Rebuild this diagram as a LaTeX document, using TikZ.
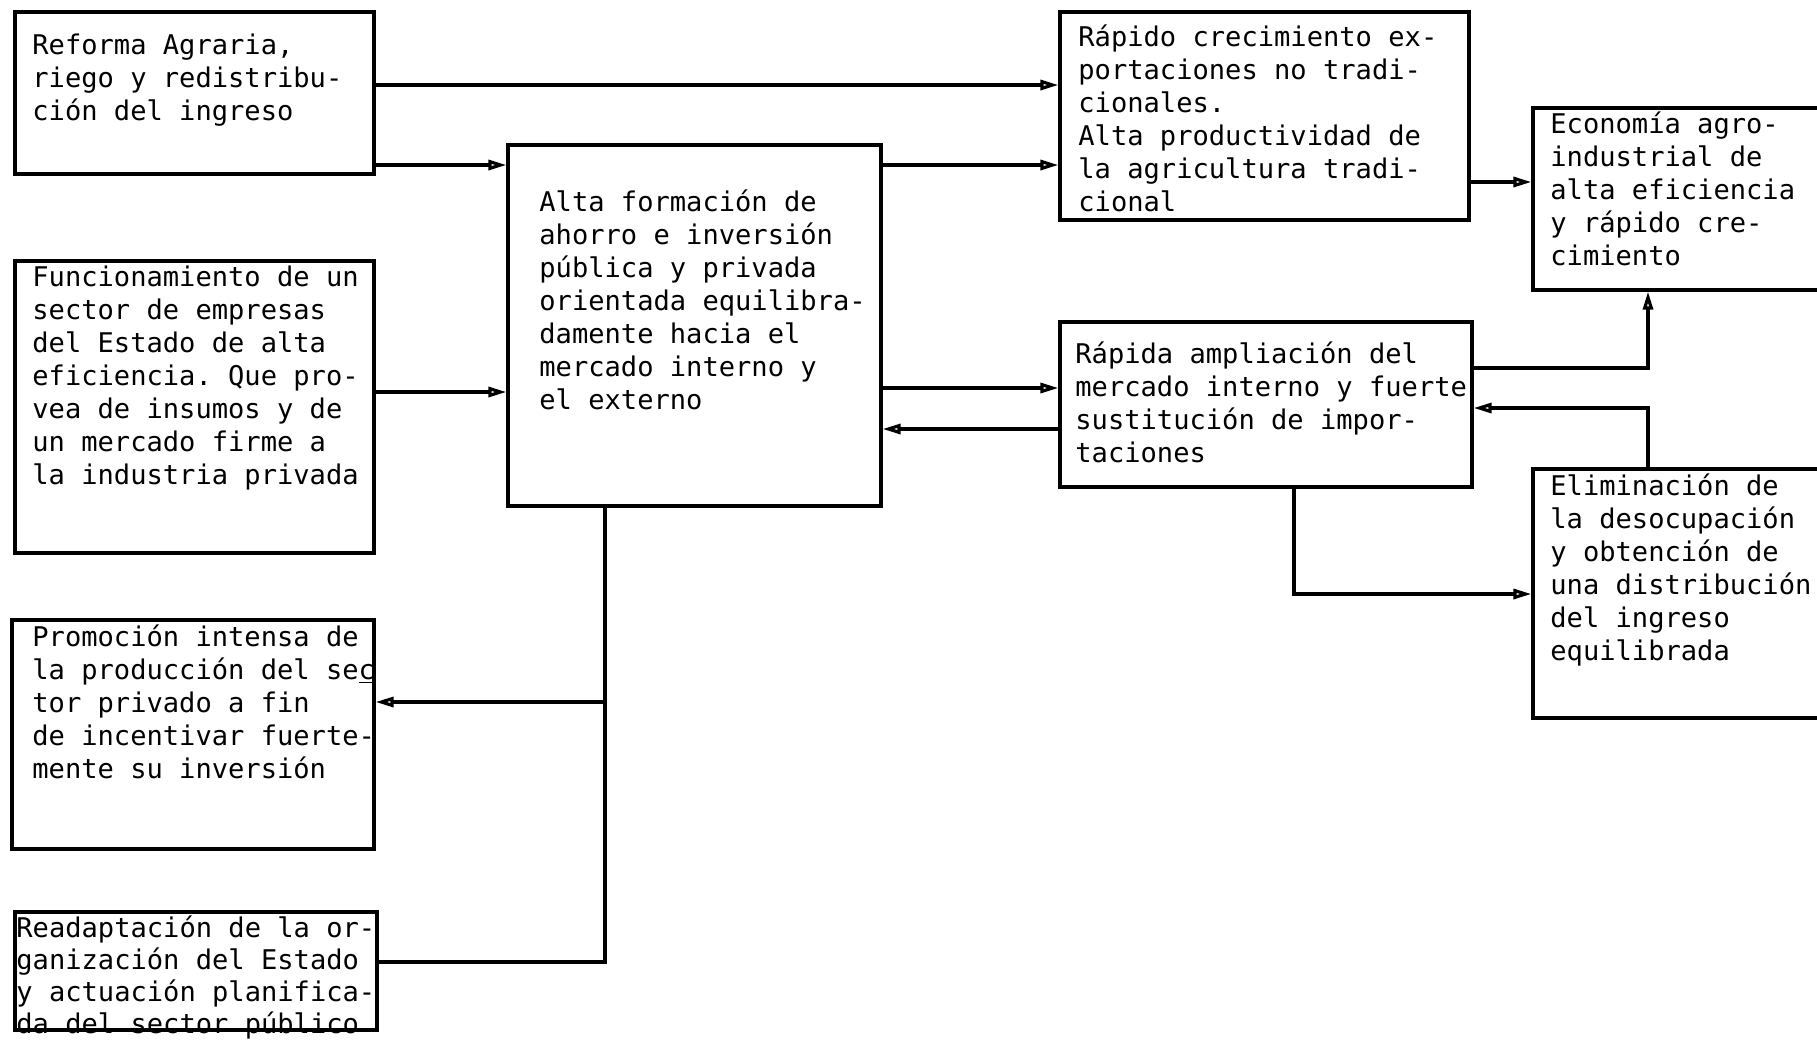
\documentclass[tikz,border=0pt]{standalone}
\usepackage{fontspec}
\setmonofont{DejaVu Sans Mono}
\usetikzlibrary{fit,arrows.meta}
\begin{document}
\begin{tikzpicture}[x=0.5pt,y=-0.5pt,
 box/.style={draw, line width=1.6pt, inner sep=0pt},
 txt/.style={anchor=north west, inner sep=0pt, align=left, font={\ttfamily\fontsize{13.55pt}{16.5pt}\selectfont}},
 arr/.style={line width=1.6pt, -{Triangle[open,length=9pt,width=5pt]}},
 ln/.style={line width=1.6pt}]
\clip (0,0) rectangle (1817,1041);
\fill[white] (0,0) rectangle (1817,1041);
% boxes
\node[box, fit={(15,12) (374,174)}] (A) {};
\node[box, fit={(508,145) (881,506)}] (C) {};
\node[box, fit={(1060,12) (1469,220)}] (R1) {};
\node[box, fit={(1533,108) (1830,290)}] (E) {};
\node[box, fit={(1060,322) (1472,487)}] (R2) {};
\node[box, fit={(1533,469) (1830,718)}] (Elim) {};
\node[box, fit={(15,261) (374,553)}] (F) {};
\node[box, fit={(12,620) (374,849)}] (P) {};
\node[box, fit={(15,912) (377,1030)}] (Re) {};
% texts
\node[txt] (tA) at (32,27) {\rule{0pt}{1em}Reforma Agraria,\\ riego y redistribu-\\ ción del ingreso};
\node[txt] (tC) at (539,184) {\rule{0pt}{1em}Alta formación de\\ ahorro e inversión\\ pública y privada\\ orientada equilibra-\\ damente hacia el\\ mercado interno y\\ el externo};
\node[txt] (tR1) at (1078,19) {\rule{0pt}{1em}Rápido crecimiento ex-\\ portaciones no tradi-\\ cionales.\\ Alta productividad de\\ la agricultura tradi-\\ cional};
\node[txt] (tE) at (1550,106) {\rule{0pt}{1em}Economía agro-\\ industrial de\\ alta eficiencia\\ y rápido cre-\\ cimiento};
\node[txt] (tR2) at (1075,336) {\rule{0pt}{1em}Rápida ampliación del\\ mercado interno y fuerte\\ sustitución de impor-\\ taciones};
\node[txt] (tElim) at (1550,468) {\rule{0pt}{1em}Eliminación de\\ la desocupación\\ y obtención de\\ una distribución\\ del ingreso\\ equilibrada};
\node[txt] (tF) at (32,259) {\rule{0pt}{1em}Funcionamiento de un\\ sector de empresas\\ del Estado de alta\\ eficiencia. Que pro-\\ vea de insumos y de\\ un mercado firme a\\ la industria privada};
\node[txt] (tP) at (32,619) {\rule{0pt}{1em}Promoción intensa de\\ la producción del se\underline{c}\\ tor privado a fin\\ de incentivar fuerte-\\ mente su inversión};
\node[txt, font={\ttfamily\fontsize{13.55pt}{16pt}\selectfont}] (tRe) at (16,910) {\rule{0pt}{1em}Readaptación de la or-\\ ganización del Estado\\ y actuación planifica-\\ da del sector público};
% connectors
\draw[arr] (A.east |- 0,85) -- (R1.west |- 0,85);
\draw[arr] (A.east |- 0,165) -- (C.west |- 0,165);
\draw[arr] (C.east |- 0,165) -- (R1.west |- 0,165);
\draw[arr] (F.east |- 0,392) -- (C.west |- 0,392);
\draw[arr] (C.east |- 0,388) -- (R2.west |- 0,388);
\draw[arr] (R2.west |- 0,429) -- (C.east |- 0,429);
\draw[arr] (R1.east |- 0,182) -- (E.west |- 0,182);
\draw[arr] (R2.east |- 0,368) -| (E.south -| 1648,0);
\draw[arr] (Elim.north -| 1648,0) |- (R2.east |- 0,408);
\draw[arr] (R2.south -| 1294,0) |- (Elim.west |- 0,594);
\coordinate (J1) at (605,702);
\coordinate (J2) at (605,962);
\draw[ln] (C.south -| J2) -- (J2) -- (Re.east |- J2);
\draw[arr] (J1) -- (P.east |- J1);
\end{tikzpicture}
\end{document}
